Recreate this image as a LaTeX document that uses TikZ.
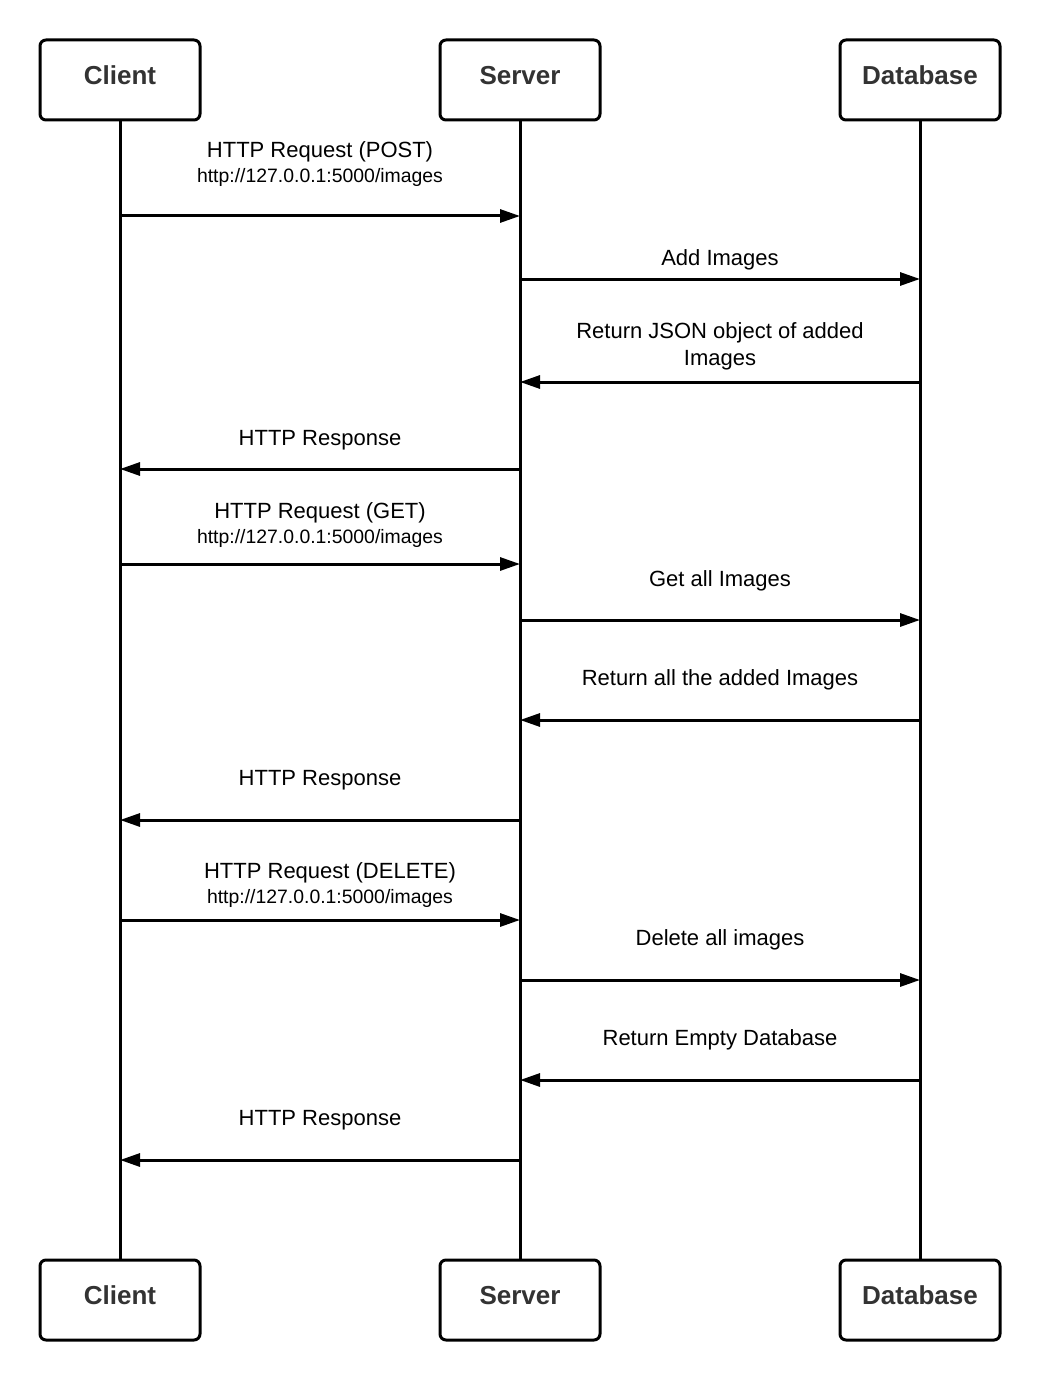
\documentclass[tikz,border=0pt]{standalone}
\usepackage{fontspec}
\setmainfont{Liberation Sans}
\usetikzlibrary{arrows.meta}
\definecolor{boxtext}{HTML}{333333}
\tikzset{
  actor/.style={draw=black, line width=1.5pt, rounded corners=3pt, minimum width=80pt, minimum height=40pt, inner sep=0pt, text height=9.3pt, text depth=5pt, font=\fontsize{13}{15}\selectfont\bfseries, text=boxtext, fill=white},
  life/.style={line width=1.5pt, draw=black},
  msg/.style={line width=1.5pt, draw=black, -{Triangle[length=10pt,width=6.5pt]}},
  lbl/.style={anchor=base, inner sep=0pt, font=\fontsize{11}{13}\selectfont},
  url/.style={anchor=base, inner sep=0pt, font=\fontsize{9.7}{11}\selectfont},
}
\begin{document}
\begin{tikzpicture}[x=0.5pt,y=-0.5pt]
\useasboundingbox (0,0) rectangle (1040,1380);
% actors
\node[actor] (ct) at (120,80) {Client};
\node[actor] (st) at (520,80) {Server};
\node[actor] (dt) at (920,80) {Database};
\node[actor] (cb) at (120,1300) {Client};
\node[actor] (sb) at (520,1300) {Server};
\node[actor] (db) at (920,1300) {Database};
% lifelines
\draw[life] (ct.south) -- (cb.north);
\draw[life] (st.south) -- (sb.north);
\draw[life] (dt.south) -- (db.north);
% message anchor points
\coordinate (c1) at (120,216);  \coordinate (s1) at (520,216);
\coordinate (s2) at (520,279);  \coordinate (d2) at (920,279);
\coordinate (d3) at (920,382);  \coordinate (s3) at (520,382);
\coordinate (s4) at (520,469);  \coordinate (c4) at (120,469);
\coordinate (c5) at (120,564);  \coordinate (s5) at (520,564);
\coordinate (s6) at (520,620);  \coordinate (d6) at (920,620);
\coordinate (d7) at (920,720);  \coordinate (s7) at (520,720);
\coordinate (s8) at (520,820);  \coordinate (c8) at (120,820);
\coordinate (c9) at (120,920);  \coordinate (s9) at (520,920);
\coordinate (s10) at (520,980); \coordinate (d10) at (920,980);
\coordinate (d11) at (920,1080); \coordinate (s11) at (520,1080);
\coordinate (s12) at (520,1160); \coordinate (c12) at (120,1160);
% messages
\draw[msg] (c1) -- (s1);
\draw[msg] (s2) -- (d2);
\draw[msg] (d3) -- (s3);
\draw[msg] (s4) -- (c4);
\draw[msg] (c5) -- (s5);
\draw[msg] (s6) -- (d6);
\draw[msg] (d7) -- (s7);
\draw[msg] (s8) -- (c8);
\draw[msg] (c9) -- (s9);
\draw[msg] (s10) -- (d10);
\draw[msg] (d11) -- (s11);
\draw[msg] (s12) -- (c12);
% labels
\node[lbl] (l1) at (320,158) {HTTP Request (POST)};
\node[url] (u1) at (320,183) {http://127.0.0.1:5000/images};
\node[lbl] (l2) at (720,265) {Add Images};
\node[lbl] (l3a) at (720,338) {Return JSON object of added};
\node[lbl] (l3b) at (720,365) {Images};
\node[lbl] (l4) at (320,445) {HTTP Response};
\node[lbl] (l5) at (320,518) {HTTP Request (GET)};
\node[url] (u5) at (320,543) {http://127.0.0.1:5000/images};
\node[lbl] (l6) at (720,586) {Get all Images};
\node[lbl] (l7) at (720,685) {Return all the added Images};
\node[lbl] (l8) at (320,785) {HTTP Response};
\node[lbl] (l9) at (330,878) {HTTP Request (DELETE)};
\node[url] (u9) at (330,903) {http://127.0.0.1:5000/images};
\node[lbl] (l10) at (720,945) {Delete all images};
\node[lbl] (l11) at (720,1045) {Return Empty Database};
\node[lbl] (l12) at (320,1125) {HTTP Response};
\end{tikzpicture}
\end{document}
